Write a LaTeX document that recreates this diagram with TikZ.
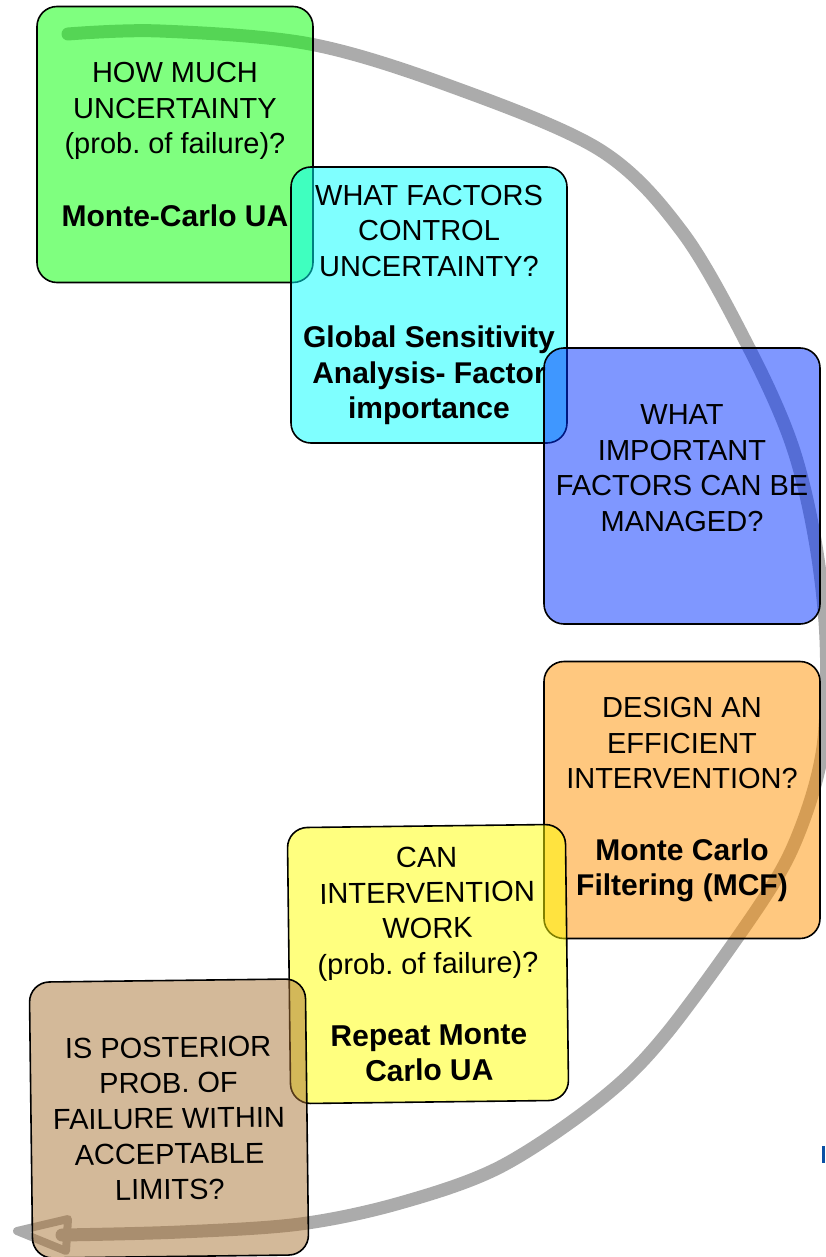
\documentclass[tikz,border=0pt]{standalone}
\usepackage{fontspec}
\setmainfont{Liberation Sans}
\frenchspacing
\definecolor{cardgreen}{RGB}{0,255,0}
\definecolor{cardcyan}{RGB}{0,255,255}
\definecolor{cardblue}{RGB}{0,48,255}
\definecolor{cardorange}{RGB}{255,145,0}
\definecolor{cardyellow}{RGB}{255,255,0}
\definecolor{cardbrown}{RGB}{168,115,52}
\definecolor{arcgray}{RGB}{171,171,171}
\definecolor{markblue}{RGB}{10,80,165}
% bold method line inside a card
\newcommand{\cardbf}[1]{{\fontsize{30}{35.5}\selectfont\bfseries #1}}
\begin{document}
\begin{tikzpicture}[x=1pt,y=-1pt,
  card/.style={draw=black, line width=1.6pt, rounded corners=20pt,
    fill opacity=0.5, text opacity=1, inner sep=0pt,
    minimum width=276pt, minimum height=276pt, align=center,
    font=\fontsize{29}{35.5}\selectfont},
  loop/.style={draw=arcgray, line width=13pt, line cap=round, line join=round},
  looptip/.style={draw=arcgray, line width=8pt, line join=round}]
\useasboundingbox (0,0) rectangle (825,1257);

% the cycle arc, drawn beneath the cards
\draw[loop] plot[smooth, tension=0.55] coordinates {
  (68,34) (160,31) (310,44) (450,86) (600,150) (683,233) (750,350)
  (792,445) (815,540) (826,640) (823,747) (800,830) (763,900)
  (667,1033) (600,1100) (500,1167) (400,1203) (300,1224) (180,1232) (62,1235)};
\draw[looptip] (17,1231) -- (68,1219) -- (66,1251) -- cycle;

% question cards
\node[card, fill=cardgreen] (ua) at (175,144.5)
  {HOW MUCH\\UNCERTAINTY\\(prob. of failure)?\\[37pt]\cardbf{Monte-Carlo UA}};
\node[card, fill=cardcyan] (gsa) at (429,305)
  {WHAT FACTORS\\CONTROL\\UNCERTAINTY?\\[36pt]\cardbf{Global Sensitivity}\\\cardbf{Analysis- Factor}\\\cardbf{importance}};
\node[card, fill=cardblue] (manage) at (682,486)
  {WHAT\\IMPORTANT\\FACTORS CAN BE\\MANAGED?\\\mbox{}};
\node[card, fill=cardorange, minimum height=277pt] (mcf) at (682,800)
  {DESIGN AN\\EFFICIENT\\INTERVENTION?\\[36pt]\cardbf{Monte Carlo}\\\cardbf{Filtering (MCF)}};
\node[card, fill=cardyellow, minimum width=278pt, rotate=0.7] (repeat) at (428,964)
  {CAN\\INTERVENTION\\WORK\\(prob. of failure)?\\[36pt]\cardbf{Repeat Monte}\\\cardbf{Carlo UA}};
\node[card, fill=cardbrown, rotate=0.7] (accept) at (169,1118.5)
  {IS POSTERIOR\\PROB. OF\\FAILURE WITHIN\\ACCEPTABLE\\LIMITS?};

% small mark at the right edge
\fill[markblue] (821.5,1146) rectangle (825,1163);
\end{tikzpicture}
\end{document}
